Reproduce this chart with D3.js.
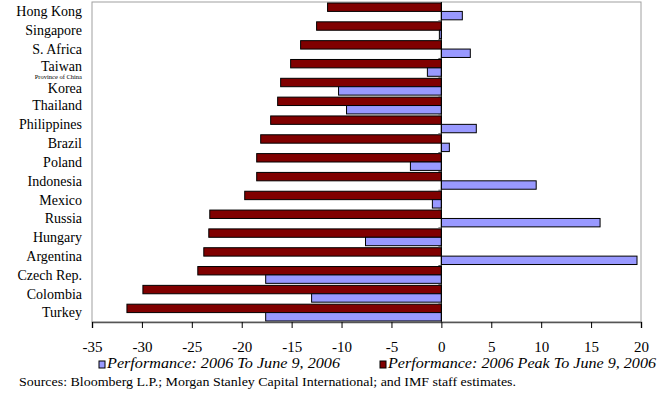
<!DOCTYPE html>
<html>
<head>
<meta charset="utf-8">
<script src="https://cdn.jsdelivr.net/npm/d3@7"></script>
<style>
  body { margin: 0; background: #fff; }
  text { font-family: "Liberation Serif", "Times New Roman", serif; fill: #000; }
</style>
</head>
<body>
<div id="chart"></div>
<script>
// categories, top to bottom
const countries = ["Hong Kong", "Singapore", "S. Africa", "Taiwan", "Korea", "Thailand",
  "Philippines", "Brazil", "Poland", "Indonesia", "Mexico", "Russia", "Hungary",
  "Argentina", "Czech Rep.", "Colombia", "Turkey"];

// Performance: 2006 To June 9, 2006
const ytd = [2.1, -0.2, 2.9, -1.4, -10.3, -9.5, 3.5, 0.8, -3.1, 9.5, -0.9, 15.9, -7.6,
  19.6, -17.6, -13.0, -17.6];

// Performance: 2006 Peak To June 9, 2006
const peak = [-11.4, -12.5, -14.1, -15.1, -16.1, -16.4, -17.1, -18.1, -18.5, -18.5,
  -19.7, -23.2, -23.3, -23.8, -24.4, -29.9, -31.5];

const xTicks = [-35, -30, -25, -20, -15, -10, -5, 0, 5, 10, 15, 20];
const seriesNames = ["Performance: 2006 To June 9, 2006", "Performance: 2006 Peak To June 9, 2006"];
const colors = ["#9999ff", "#800000"];

const margin = {top: 2, right: 29, bottom: 78, left: 92},
    width = 670 - margin.left - margin.right,
    height = 400 - margin.top - margin.bottom;

const svg = d3.select("#chart")
  .append("svg")
    .attr("width", 670)
    .attr("height", 400);

const g = svg.append("g")
    .attr("transform", `translate(${margin.left},${margin.top})`);

const x = d3.scaleLinear([-35, 20], [0, width]);
const y = d3.scaleBand(countries, [0, height]).paddingInner(0).paddingOuter(0);

// inner band: red on top, blue below
const sub = d3.scaleBand(["peak", "ytd"], [0, y.bandwidth()]).paddingInner(0).paddingOuter(0.12);

// plot frame
g.append("rect")
  .attr("x", 0).attr("y", 0)
  .attr("width", width).attr("height", height)
  .attr("fill", "none")
  .attr("stroke", "#a0a0a0")
  .attr("stroke-width", 1);

const rows = countries.map((c, i) => ({c, ytd: ytd[i], peak: peak[i]}));

// bars
["peak", "ytd"].forEach(key => {
  g.append("g")
    .selectAll("rect")
    .data(rows)
    .join("rect")
      .attr("x", d => x(Math.min(0, d[key])))
      .attr("y", d => y(d.c) + sub(key))
      .attr("width", d => Math.abs(x(d[key]) - x(0)))
      .attr("height", sub.bandwidth())
      .attr("fill", key === "peak" ? colors[1] : colors[0])
      .attr("stroke", "#000")
      .attr("stroke-width", 1);
});

// zero axis with small category ticks
g.append("line")
  .attr("x1", x(0)).attr("x2", x(0))
  .attr("y1", 0).attr("y2", height)
  .attr("stroke", "#000");
g.append("g")
  .selectAll("line")
  .data(countries.slice(1))
  .join("line")
    .attr("x1", x(0) - 3).attr("x2", x(0))
    .attr("y1", d => y(d)).attr("y2", d => y(d))
    .attr("stroke", "#555");

// bottom axis
const xAxis = g.append("g")
  .attr("transform", `translate(0,${height})`)
  .call(d3.axisBottom(x).tickValues(xTicks).tickSize(6).tickFormat(d => String(d)));
xAxis.select(".domain").attr("stroke", "#555").attr("stroke-width", 1.5);
xAxis.selectAll(".tick line").attr("stroke", "#000");
xAxis.selectAll("text")
  .attr("y", 351.7 - margin.top - height)
  .attr("dy", null)
  .style("font-family", "Liberation Serif, serif")
  .style("font-size", "15px")
  .attr("fill", "#000");

// category labels
const labels = g.append("g");
labels.selectAll("text")
  .data(countries)
  .join("text")
    .attr("x", -10)
    .attr("y", d => y(d) + y.bandwidth() / 2)
    .attr("dy", d => d === "Taiwan" ? "0.2em" : d === "Korea" ? "0.42em" : "0.35em")
    .attr("text-anchor", "end")
    .style("font-size", "14px")
    .text(d => d);
labels.append("text")
  .attr("x", -10)
  .attr("y", y("Taiwan") + y.bandwidth() / 2 + 11.2)
  .attr("text-anchor", "end")
  .style("font-size", "6.5px")
  .text("Province of China");

// legend
const legendX = [99, 380];
const legendLen = [233, 268];
const legend = svg.append("g");
seriesNames.forEach((name, i) => {
  legend.append("rect")
    .attr("x", legendX[i]).attr("y", 361)
    .attr("width", 6).attr("height", 7)
    .attr("fill", colors[i])
    .attr("stroke", "#000");
  legend.append("text")
    .attr("x", legendX[i] + 8).attr("y", 368.3)
    .attr("textLength", legendLen[i])
    .attr("lengthAdjust", "spacingAndGlyphs")
    .style("font-size", "14px")
    .style("font-style", "italic")
    .text(name);
});

// source note
svg.append("text")
  .attr("x", 19).attr("y", 385.7)
  .attr("textLength", 497)
  .attr("lengthAdjust", "spacingAndGlyphs")
  .style("font-size", "12.5px")
  .text("Sources: Bloomberg L.P.; Morgan Stanley Capital International; and IMF staff estimates.");
</script>
</body>
</html>
